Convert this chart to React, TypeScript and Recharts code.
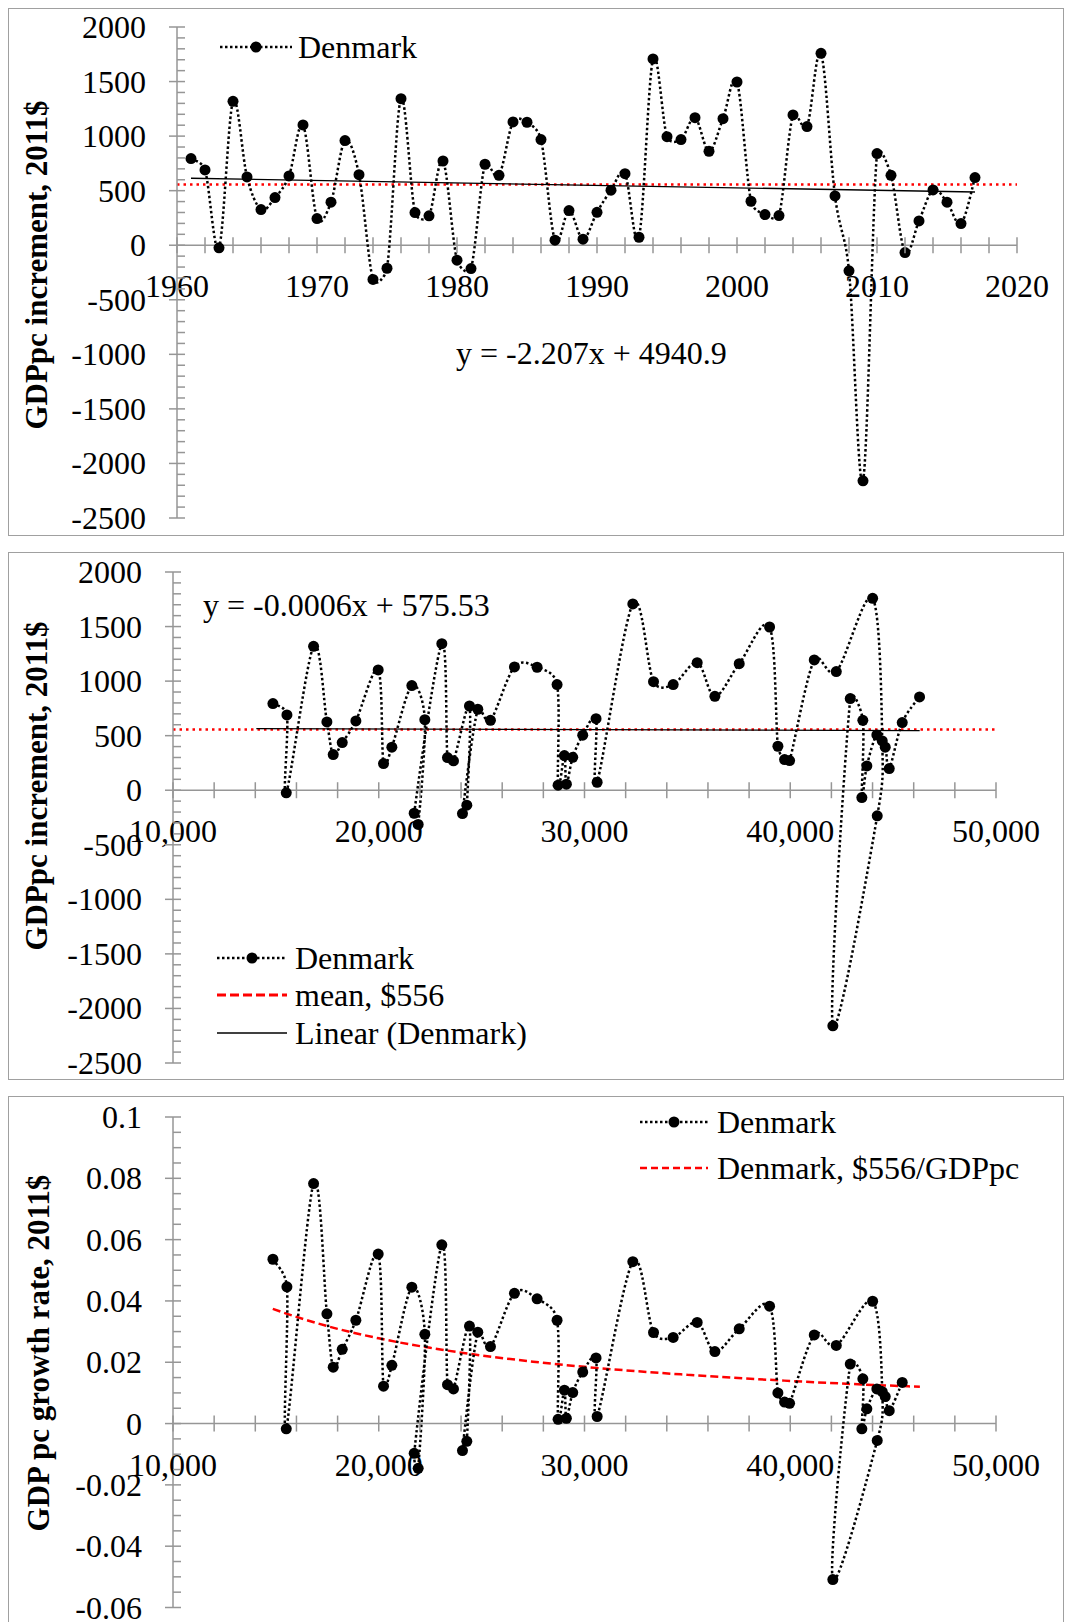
import React from 'react';
import { LineChart, Line, XAxis, YAxis, ReferenceLine, Legend } from 'recharts';

// Denmark, GDP per capita (2011$)
const years = [
  1961, 1962, 1963, 1964, 1965, 1966, 1967, 1968, 1969, 1970,
  1971, 1972, 1973, 1974, 1975, 1976, 1977, 1978, 1979, 1980,
  1981, 1982, 1983, 1984, 1985, 1986, 1987, 1988, 1989, 1990,
  1991, 1992, 1993, 1994, 1995, 1996, 1997, 1998, 1999, 2000,
  2001, 2002, 2003, 2004, 2005, 2006, 2007, 2008, 2009, 2010,
  2011, 2012, 2013, 2014, 2015, 2016, 2017, 2018,
];

const increment = [
  794, 690, -24, 1319, 626, 327, 437, 635, 1102, 244,
  394, 959, 647, -314, -211, 1343, 299, 269, 772, -137,
  -214, 742, 641, 1130, 1127, 968, 46, 318, 55, 302,
  504, 656, 73, 1707, 995, 968, 1169, 861, 1160, 1496,
  403, 281, 272, 1194, 1087, 1759, 452, -235, -2159, 840,
  641, -67, 223, 507, 394, 198, 620, 855,
];

const gdppc = [
  14857, 15537, 15505, 16832, 17480, 17787, 18225, 18888, 19973, 20232,
  20637, 21608, 22240, 21916, 21722, 23065, 23341, 23632, 24409, 24280,
  24069, 24814, 25429, 26595, 27696, 28667, 28716, 29023, 29120, 29428,
  29914, 30561, 30614, 32349, 33354, 34310, 35477, 36337, 37520, 38995,
  39400, 39724, 39968, 41167, 42237, 44004, 44471, 44228, 42070, 42916,
  43528, 43480, 43723, 44209, 44617, 44811, 45443, 46284,
];

// growth rate only goes to 2017
const growthRate = [
  0.0536, 0.0446, -0.0017, 0.0783, 0.0358, 0.0184, 0.0242, 0.0337, 0.0553, 0.0122,
  0.019, 0.0445, 0.0291, -0.0146, -0.0097, 0.0583, 0.0127, 0.0113, 0.0318, -0.0058,
  -0.0088, 0.0298, 0.0251, 0.0425, 0.0407, 0.0337, 0.0014, 0.0109, 0.0017, 0.0101,
  0.0168, 0.0214, 0.0023, 0.0528, 0.0297, 0.0281, 0.033, 0.0235, 0.0309, 0.0383,
  0.01, 0.007, 0.0066, 0.0289, 0.0255, 0.0399, 0.0104, -0.0055, -0.0509, 0.0194,
  0.0146, -0.0017, 0.0048, 0.0113, 0.0088, 0.0042, 0.0134,
];

const meanIncrement = 556;

const yearTrendYears = [1961, 2017];
const yearTrendValues = [614, 488];
const levelTrendGdp = [14050, 46290];
const levelTrendValues = [565, 547];

// "$556/GDPpc" curve
const ratioCurveGdp = [14850, 16000, 18000, 20000, 22500, 25000, 27500, 30000, 35000, 40000, 43000, 46300];
const ratioCurveValues = [0.0374, 0.0348, 0.0309, 0.0278, 0.0247, 0.0222, 0.0202, 0.0185, 0.0159, 0.0139, 0.0129, 0.012];

const yearTickLabels = ['1960', '1970', '1980', '1990', '2000', '2010', '2020'];
const levelTickLabels = ['10,000', '20,000', '30,000', '40,000', '50,000'];
const incrementTickLabels = ['2000', '1500', '1000', '500', '0', '-500', '-1000', '-1500', '-2000', '-2500'];
const growthTickLabels = ['0.1', '0.08', '0.06', '0.04', '0.02', '0', '-0.02', '-0.04', '-0.06'];

const AXIS = '#969696';
const FONT = '"Liberation Serif", "Times New Roman", serif';
const CHART_W = 1054;
const CHART_H = 526;

const key = (v: number) => Math.round(v * 10000);
const labelMap = (labels: string[]) =>
  new Map(labels.map((l) => [key(Number(l.replace(',', ''))), l] as [number, string]));
const stepTicks = (min: number, max: number, step: number) => {
  const out: number[] = [];
  const n = Math.round((max - min) / step);
  for (let i = 0; i <= n; i++) out.push(Math.round((min + i * step) * 10000) / 10000);
  return out;
};

// Excel-like smoothed line: Catmull-Rom handles, each capped at half the segment length
const smoothCurve = (context: any) => {
  let pts: number[][] = [];
  const handle = (a: number[], b: number[], segLen: number) => {
    let dx = (b[0] - a[0]) / 6;
    let dy = (b[1] - a[1]) / 6;
    const len = Math.hypot(dx, dy);
    const cap = segLen / 2;
    if (len > cap && len > 0) {
      dx *= cap / len;
      dy *= cap / len;
    }
    return [dx, dy];
  };
  return {
    areaStart() {},
    areaEnd() {},
    lineStart() {
      pts = [];
    },
    point(x: number, y: number) {
      pts.push([+x, +y]);
    },
    lineEnd() {
      if (!pts.length) return;
      context.moveTo(pts[0][0], pts[0][1]);
      for (let i = 0; i < pts.length - 1; i++) {
        const p0 = pts[Math.max(i - 1, 0)];
        const p1 = pts[i];
        const p2 = pts[i + 1];
        const p3 = pts[Math.min(i + 2, pts.length - 1)];
        const seg = Math.hypot(p2[0] - p1[0], p2[1] - p1[1]);
        const h1 = handle(p0, p2, seg);
        const h2 = handle(p1, p3, seg);
        context.bezierCurveTo(p1[0] + h1[0], p1[1] + h1[1], p2[0] - h2[0], p2[1] - h2[1], p2[0], p2[1]);
      }
    },
  };
};

// x axis sits at y = 0, so ticks are lifted from the plot bottom
const xTick = (lift: number, labels: Map<number, string>) => (props: any) => {
  const { x, y, payload } = props;
  const y0 = y - lift;
  const label = labels.get(key(payload.value));
  return (
    <g>
      <line x1={x} x2={x} y1={y0 - 8} y2={y0 + 8} stroke={AXIS} strokeWidth={1.5} />
      {label !== undefined && (
        <text x={x} y={y0 + 41} textAnchor="middle" dominantBaseline="central" fontFamily={FONT} fontSize={32} fill="#000">
          {label}
        </text>
      )}
    </g>
  );
};

const yTick = (labels: Map<number, string>) => (props: any) => {
  const { x, y, payload } = props;
  const label = labels.get(key(payload.value));
  return (
    <g>
      <line x1={label !== undefined ? x - 8 : x} x2={x + 8} y1={y} y2={y} stroke={AXIS} strokeWidth={1.5} />
      {label !== undefined && (
        <text x={x - 31} y={y} textAnchor="end" dominantBaseline="central" fontFamily={FONT} fontSize={32} fill="#000">
          {label}
        </text>
      )}
    </g>
  );
};

type LegendKind = 'denmark' | 'mean' | 'linear' | 'ratio';

const LegendKey = ({ kind, width }: { kind: LegendKind; width: number }) => (
  <svg width={width} height={16} style={{ display: 'block', flex: 'none' }}>
    {kind === 'denmark' && (
      <>
        <line x1={0} x2={width} y1={8} y2={8} stroke="#000" strokeWidth={2.5} strokeDasharray="2.5 2.5" />
        <circle cx={width / 2} cy={8} r={5.5} fill="#000" />
      </>
    )}
    {kind === 'mean' && <line x1={0} x2={width} y1={8} y2={8} stroke="#ff0000" strokeWidth={3} strokeDasharray="9 4" />}
    {kind === 'linear' && <line x1={0} x2={width} y1={8} y2={8} stroke="#000" strokeWidth={1.3} />}
    {kind === 'ratio' && <line x1={0} x2={width} y1={8} y2={8} stroke="#ff0000" strokeWidth={2.5} strokeDasharray="7 4" />}
  </svg>
);

const LegendBox = ({ items, rowH, keyW, gap }: { items: [LegendKind, string][]; rowH: number; keyW: number; gap: number }) => (
  <div>
    {items.map(([kind, text]) => (
      <div key={text} style={{ display: 'flex', alignItems: 'center', height: rowH }}>
        <LegendKey kind={kind} width={keyW} />
        <span style={{ marginLeft: gap, fontFamily: FONT, fontSize: 32, lineHeight: 1, whiteSpace: 'nowrap' }}>{text}</span>
      </div>
    ))}
  </div>
);

const panelStyle: React.CSSProperties = {
  position: 'relative',
  width: 1056,
  height: 528,
  boxSizing: 'border-box',
  border: '1px solid #a0a0a0',
  marginBottom: 16,
  background: '#fff',
};

const titleStyle = (cx: number, cy: number): React.CSSProperties => ({
  position: 'absolute',
  left: cx,
  top: cy,
  transform: 'translate(-50%, -50%) rotate(-90deg)',
  whiteSpace: 'nowrap',
  fontFamily: FONT,
  fontWeight: 'bold',
  fontSize: 31,
  lineHeight: 1,
});

const noteStyle = (left: number, cy: number): React.CSSProperties => ({
  position: 'absolute',
  left,
  top: cy - 16,
  whiteSpace: 'nowrap',
  fontFamily: FONT,
  fontSize: 32,
  lineHeight: 1,
});

type Margin = { top: number; right: number; bottom: number; left: number };

const App = () => {
  const yearRows = years.map((x, i) => ({ x, y: increment[i] })).filter((r) => r.x <= 2017);
  const levelRows = gdppc.map((x, i) => ({ x, y: increment[i] }));
  const growthRows = growthRate.map((y, i) => ({ x: gdppc[i], y }));
  const yearTrend = yearTrendYears.map((x, i) => ({ x, y: yearTrendValues[i] }));
  const levelTrend = levelTrendGdp.map((x, i) => ({ x, y: levelTrendValues[i] }));
  const ratioRows = ratioCurveGdp.map((x, i) => ({ x, y: ratioCurveValues[i] }));

  const yearDomain: [number, number] = [1960, 2020];
  const levelDomain: [number, number] = [10000, 50000];
  const incDomain: [number, number] = [-2500, 2000];
  const growthDomain: [number, number] = [-0.06, 0.1];

  const yearTicks = stepTicks(1960, 2020, 2);
  const levelTicks = stepTicks(10000, 50000, 2000);
  const incTicks = stepTicks(-2500, 2000, 100);
  const growthTicks = stepTicks(-0.06, 0.1, 0.005);

  // left = y axis width, bottom includes the 1px x axis band
  const m1: Margin = { top: 18, right: 46, bottom: 16, left: 0 };
  const m2: Margin = { top: 19, right: 67, bottom: 15, left: 0 };
  const m3: Margin = { top: 20, right: 67, bottom: 14.5, left: 0 };
  const yw1 = 168;
  const yw2 = 164;
  const lift = (m: Margin, d: [number, number]) => ((CHART_H - m.top - m.bottom - 1) * (0 - d[0])) / (d[1] - d[0]);

  const meanYears = yearDomain.map((x) => ({ x, y: meanIncrement }));
  const meanLevels = levelDomain.map((x) => ({ x, y: meanIncrement }));

  const denmarkLine = {
    dataKey: 'y',
    type: smoothCurve as any,
    stroke: '#000',
    strokeWidth: 2.5,
    strokeDasharray: '2.5 2.5',
    dot: { r: 5.5, fill: '#000', stroke: 'none' },
    activeDot: false,
    isAnimationActive: false,
  };

  const xAxisCommon = {
    type: 'number' as const,
    dataKey: 'x',
    interval: 0,
    height: 1,
    tickSize: 0,
    tickMargin: 0,
    axisLine: false,
    tickLine: false,
  };
  const yAxisCommon = {
    type: 'number' as const,
    interval: 0,
    tickSize: 0,
    tickMargin: 0,
    axisLine: { stroke: AXIS, strokeWidth: 1.5 },
    tickLine: false,
  };

  return (
    <div style={{ position: 'absolute', left: 8, top: 8, width: 1056, height: 1614, overflow: 'hidden' }}>
      {/* increment by year */}
      <div style={panelStyle}>
        <LineChart width={CHART_W} height={CHART_H} margin={m1}>
          <XAxis {...xAxisCommon} domain={yearDomain} ticks={yearTicks} tick={xTick(lift(m1, incDomain), labelMap(yearTickLabels))} />
          <YAxis {...yAxisCommon} width={yw1} domain={incDomain} ticks={incTicks} tick={yTick(labelMap(incrementTickLabels))} />
          <ReferenceLine y={0} stroke={AXIS} strokeWidth={1.5} />
          <Line data={meanYears} dataKey="y" type="linear" stroke="#ff0000" strokeWidth={2.5} strokeDasharray="2.5 4" dot={false} activeDot={false} isAnimationActive={false} />
          <Line data={yearTrend} dataKey="y" type="linear" stroke="#000" strokeWidth={1.3} dot={false} activeDot={false} isAnimationActive={false} />
          <Line data={yearRows} {...denmarkLine} />
          <Legend
            layout="horizontal"
            align="center"
            verticalAlign="middle"
            wrapperStyle={{ left: 211, top: 19, width: 'auto', height: 'auto' }}
            content={() => <LegendBox items={[['denmark', 'Denmark']]} rowH={37} keyW={72} gap={6} />}
          />
        </LineChart>
        <div style={titleStyle(27, 256)}>GDPpc increment, 2011$</div>
        <div style={noteStyle(447, 344)}>y = -2.207x + 4940.9</div>
      </div>

      {/* increment by GDP per capita level */}
      <div style={panelStyle}>
        <LineChart width={CHART_W} height={CHART_H} margin={m2}>
          <XAxis {...xAxisCommon} domain={levelDomain} ticks={levelTicks} tick={xTick(lift(m2, incDomain), labelMap(levelTickLabels))} />
          <YAxis {...yAxisCommon} width={yw2} domain={incDomain} ticks={incTicks} tick={yTick(labelMap(incrementTickLabels))} />
          <ReferenceLine y={0} stroke={AXIS} strokeWidth={1.5} />
          <Line data={meanLevels} dataKey="y" type="linear" stroke="#ff0000" strokeWidth={2.5} strokeDasharray="2.5 4" dot={false} activeDot={false} isAnimationActive={false} />
          <Line data={levelTrend} dataKey="y" type="linear" stroke="#000" strokeWidth={1.3} dot={false} activeDot={false} isAnimationActive={false} />
          <Line data={levelRows} {...denmarkLine} />
          <Legend
            layout="horizontal"
            align="center"
            verticalAlign="middle"
            wrapperStyle={{ left: 208, top: 386, width: 'auto', height: 'auto' }}
            content={() => (
              <LegendBox
                items={[
                  ['denmark', 'Denmark'],
                  ['mean', 'mean, $556'],
                  ['linear', 'Linear (Denmark)'],
                ]}
                rowH={37.5}
                keyW={70}
                gap={8}
              />
            )}
          />
        </LineChart>
        <div style={titleStyle(27, 233)}>GDPpc increment, 2011$</div>
        <div style={noteStyle(194, 52)}>y = -0.0006x + 575.53</div>
      </div>

      {/* growth rate by GDP per capita level */}
      <div style={panelStyle}>
        <LineChart width={CHART_W} height={CHART_H} margin={m3}>
          <XAxis {...xAxisCommon} domain={levelDomain} ticks={levelTicks} tick={xTick(lift(m3, growthDomain), labelMap(levelTickLabels))} />
          <YAxis {...yAxisCommon} width={yw2} domain={growthDomain} ticks={growthTicks} tick={yTick(labelMap(growthTickLabels))} />
          <ReferenceLine y={0} stroke={AXIS} strokeWidth={1.5} />
          <Line data={ratioRows} dataKey="y" type="monotone" stroke="#ff0000" strokeWidth={2.5} strokeDasharray="8 4" dot={false} activeDot={false} isAnimationActive={false} />
          <Line data={growthRows} {...denmarkLine} />
          <Legend
            layout="horizontal"
            align="center"
            verticalAlign="middle"
            wrapperStyle={{ left: 631, top: 2, width: 'auto', height: 'auto' }}
            content={() => (
              <LegendBox
                items={[
                  ['denmark', 'Denmark'],
                  ['ratio', 'Denmark, $556/GDPpc'],
                ]}
                rowH={46.3}
                keyW={68}
                gap={9}
              />
            )}
          />
        </LineChart>
        <div style={titleStyle(29, 256)}>GDP pc growth rate, 2011$</div>
      </div>
    </div>
  );
};

export default App;
